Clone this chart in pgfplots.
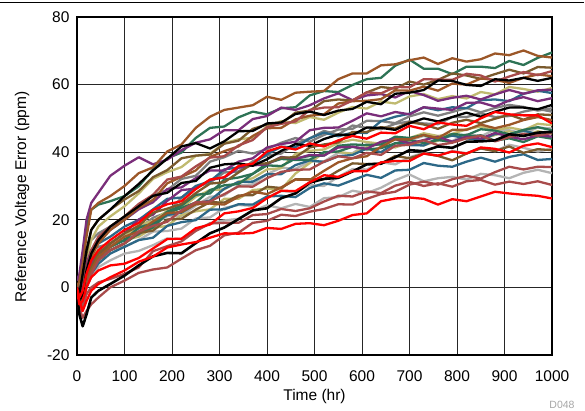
\documentclass[border=0pt]{standalone}
\usepackage{pgfplots}
\pgfplotsset{compat=1.18}
\usepackage{fontspec}
\setmainfont{Liberation Sans}
\definecolor{cbrown}{RGB}{156,87,40}
\definecolor{cgreen}{RGB}{45,115,85}
\definecolor{cpurple}{RGB}{122,46,122}
\definecolor{ckhaki}{RGB}{192,186,112}
\definecolor{cdbrown}{RGB}{122,90,45}
\definecolor{cteal}{RGB}{45,104,135}
\definecolor{cgray}{RGB}{128,128,128}
\definecolor{clgray}{RGB}{180,180,180}
\definecolor{cdred}{RGB}{168,75,75}
\definecolor{cred}{RGB}{255,0,0}
\begin{document}
\begin{tikzpicture}
\useasboundingbox (0,0) rectangle (585bp,411bp);
\draw[line width=0.8pt] (0,408.5bp) -- (584bp,408.5bp);
\node[text=black!35, font=\fontsize{10.5bp}{12bp}\selectfont] at (562bp,6bp) {D048};
\begin{axis}[
  at={(77bp,56bp)}, anchor=south west,
  scale only axis, width=475bp, height=338bp,
  xmin=0, xmax=1000, ymin=-20, ymax=80,
  xtick={0,100,...,1000}, ytick={-20,0,...,80},
  grid=major, major grid style={black!85, line width=0.7pt},
  axis line style={line width=2.2pt},
  tick style={draw=none},
  /pgf/number format/assume math mode=true,
  /pgf/number format/1000 sep={},
  ticklabel style={font=\fontsize{15.5bp}{18bp}\selectfont},
  xticklabel style={anchor=center, yshift=-21bp},
  yticklabel style={anchor=east, xshift=-4bp},
  xlabel={Time (hr)}, ylabel={Reference Voltage Error (ppm)},
  every axis x label/.style={at={(axis description cs:0.5,-0.1213)}, anchor=center, font=\fontsize{15.5bp}{18bp}\selectfont},
  every axis y label/.style={at={(axis description cs:-0.1158,0.4675)}, anchor=center, rotate=90, font=\fontsize{15.5bp}{18bp}\selectfont},
  every axis plot/.append style={line width=2.3pt, line join=round, no markers},
]
\addplot[cgray] coordinates {(0,1)(5,-1)(12,5)(20,11)(30,14)(45,16)(70,18)(100,20)(130,23.6)(160,27.3)(190,28.8)(220,32.1)(250,33)(280,37.2)(310,38.5)(340,40.4)(370,39.6)(400,40.9)(430,42.8)(460,44.2)(490,43.1)(520,45.1)(550,46.7)(580,46.9)(610,49.3)(640,49.2)(670,48.6)(700,50.6)(730,51.8)(760,50.8)(790,51.9)(820,53.1)(850,51.8)(880,53.1)(910,54)(940,53.4)(970,52.3)(1000,53)};
\addplot[clgray] coordinates {(0,0)(5,-3)(12,0)(20,4)(30,7)(45,9)(70,11)(100,12)(130,14)(160,16.5)(190,16.7)(220,17.4)(250,20.4)(280,20.7)(310,23.5)(340,24.4)(370,24.1)(400,26.6)(430,28.5)(460,28.2)(490,30.3)(520,30)(550,32.7)(580,35)(610,34.9)(640,37)(670,36.4)(700,38.5)(730,39.8)(760,38.9)(790,40.4)(820,39.7)(850,41.3)(880,40.3)(910,42.2)(940,41.3)(970,40.2)(1000,41)};
\addplot[clgray] coordinates {(0,0)(5,-5)(12,-4)(20,0)(30,3)(45,6)(70,8)(100,10)(130,10.8)(160,12.5)(190,14.5)(220,14.3)(250,16.8)(280,19)(310,19.8)(340,20.3)(370,22.6)(400,24.3)(430,23.4)(460,24.7)(490,23.8)(520,26.4)(550,26.7)(580,28.6)(610,27.9)(640,29.5)(670,31.7)(700,33.4)(730,31.4)(760,32.3)(790,32.7)(820,31.9)(850,33.6)(880,33.2)(910,32.3)(940,33.9)(970,34.8)(1000,33.8)};
\addplot[clgray] coordinates {(0,1)(5,-2)(12,1)(20,6)(30,9)(45,11)(70,13)(100,15)(130,18.1)(160,18.4)(190,21.1)(220,21.2)(250,24.2)(280,26.8)(310,27.2)(340,30.2)(370,30.5)(400,33.5)(430,35.4)(460,35.1)(490,37.2)(520,37.3)(550,39.8)(580,39.7)(610,42.4)(640,42.1)(670,41.6)(700,43.5)(730,44.8)(760,43.8)(790,43.3)(820,45.3)(850,44.7)(880,46.7)(910,46.5)(940,45.5)(970,47.3)(1000,47)};
\addplot[cgray] coordinates {(0,1)(5,-2)(12,3)(20,9)(30,11)(45,12)(70,13)(100,15)(130,17.4)(160,20.6)(190,22.2)(220,26.5)(250,29.7)(280,31)(310,34)(340,34.3)(370,37.3)(400,39)(430,39.6)(460,42.5)(490,44.1)(520,46.3)(550,45.2)(580,47.9)(610,47.2)(640,46.8)(670,48.4)(700,49.1)(730,48.5)(760,48.3)(790,50.4)(820,50.4)(850,51.5)(880,50.4)(910,50.7)(940,52)(970,52.8)(1000,52)};
\addplot[ckhaki] coordinates {(0,1)(5,-1)(12,2)(20,8)(30,14)(45,18)(70,21)(100,24)(130,27.8)(160,32.1)(190,34.1)(220,35.6)(250,38.9)(280,39.5)(310,42.7)(340,43.8)(370,44.3)(400,47.6)(430,49.2)(460,48.6)(490,50.4)(520,49.6)(550,51.7)(580,53.4)(610,52.9)(640,55)(670,54.4)(700,56.5)(730,57.2)(760,55.7)(790,56.6)(820,55.9)(850,57.8)(880,57.1)(910,59.3)(940,58.7)(970,57.9)(1000,59)};
\addplot[ckhaki] coordinates {(0,0)(5,-3)(12,1)(20,6)(30,9)(45,11)(70,13)(100,15)(130,18.6)(160,19.6)(190,22.7)(220,23.5)(250,26.8)(280,28.8)(310,29)(340,31.3)(370,32.3)(400,34.9)(430,35.3)(460,39.5)(490,40.4)(520,40.8)(550,42.7)(580,43.7)(610,43)(640,42.5)(670,44.3)(700,44.2)(730,45.6)(760,44.8)(790,45.4)(820,46.8)(850,47.6)(880,46.5)(910,47.3)(940,46.5)(970,48.4)(1000,48)};
\addplot[ckhaki] coordinates {(0,0)(5,-2)(12,-1)(20,4)(30,7)(45,10)(70,13)(100,14)(130,15)(160,17.6)(190,18.2)(220,21.4)(250,22.5)(280,23.1)(310,26.2)(340,26.2)(370,28.8)(400,29.2)(430,29)(460,33.7)(490,36.8)(520,39.9)(550,40.1)(580,39.5)(610,41.5)(640,42.5)(670,41.4)(700,42.9)(730,42)(760,43.4)(790,45.3)(820,44.7)(850,43.7)(880,45.1)(910,46.2)(940,44.7)(970,46.2)(1000,45.5)};
\addplot[cteal] coordinates {(0,0)(5,-3)(12,0)(20,6)(30,10)(45,13)(70,15)(100,18)(130,20)(160,23.1)(190,26.2)(220,26.6)(250,30)(280,31.4)(310,34.9)(340,35.5)(370,36.5)(400,39.4)(430,41.6)(460,41.5)(490,44.1)(520,45.8)(550,44.7)(580,45.8)(610,45.7)(640,49.2)(670,50.5)(700,51.4)(730,53.3)(760,52.4)(790,53.3)(820,53)(850,55.4)(880,55.6)(910,55.1)(940,57.3)(970,58.2)(1000,57.5)};
\addplot[cteal] coordinates {(0,-1)(5,-5)(12,-3)(20,1)(30,4)(45,7)(70,10)(100,12)(130,14)(160,14.7)(190,18.2)(220,19.3)(250,19.9)(280,23)(310,23.1)(340,24.6)(370,24.5)(400,26.9)(430,27.1)(460,26.7)(490,29.4)(520,30.8)(550,30.1)(580,31.7)(610,33.3)(640,32.4)(670,34.6)(700,34.8)(730,36.8)(760,36)(790,35.7)(820,37.2)(850,38.4)(880,37.2)(910,38.6)(940,39.4)(970,37.7)(1000,38)};
\addplot[cteal] coordinates {(0,-1)(5,-4)(12,-2)(20,2)(30,6)(45,9)(70,12)(100,14)(130,15.7)(160,18.8)(190,21.4)(220,22.1)(250,24.7)(280,25.7)(310,29.2)(340,31.2)(370,31.3)(400,33.5)(430,33.5)(460,36.2)(490,37.6)(520,37.1)(550,38.8)(580,39.2)(610,41.1)(640,40)(670,42.7)(700,42.1)(730,42)(760,43.9)(790,44.9)(820,44.1)(850,43.6)(880,45.4)(910,45.3)(940,46.4)(970,45.3)(1000,46)};
\addplot[cgreen] coordinates {(0,1)(5,-2)(12,1)(20,5)(30,8)(45,10)(70,12)(100,14)(130,17.7)(160,18.9)(190,22.4)(220,24.2)(250,27.4)(280,27.8)(310,31.9)(340,32.5)(370,33.6)(400,36.7)(430,38)(460,37.7)(490,37.8)(520,40)(550,40.2)(580,41.6)(610,40.8)(640,41.2)(670,42.6)(700,43.6)(730,42.7)(760,43.6)(790,43)(820,44.6)(850,45)(880,43.4)(910,44.1)(940,43)(970,44.7)(1000,44)};
\addplot[cgreen] coordinates {(0,0)(5,-4)(12,-1)(20,3)(30,6)(45,8)(70,11)(100,13)(130,16)(160,17.7)(190,22)(220,23.5)(250,25.1)(280,28.8)(310,30.2)(340,30.6)(370,33.6)(400,36.1)(430,35.9)(460,38.1)(490,38.9)(520,39)(550,41.9)(580,42.3)(610,42.1)(640,42.3)(670,44.6)(700,44.2)(730,45.1)(760,43.6)(790,45.4)(820,45)(850,46.8)(880,46.4)(910,45.3)(940,46.6)(970,47.4)(1000,46.5)};
\addplot[cgreen] coordinates {(0,3)(5,2)(12,9)(20,18)(30,23)(45,24.5)(70,25.5)(100,27)(130,29.9)(160,34.9)(190,38.2)(220,39.9)(250,44.2)(280,47.2)(310,47.6)(340,50.3)(370,52)(400,51.2)(430,53)(460,53.3)(490,56.8)(520,58.1)(550,57.8)(580,59.9)(610,61.6)(640,62)(670,65.6)(700,67.4)(730,64.7)(760,64.7)(790,63.1)(820,65.3)(850,65.3)(880,64.9)(910,67)(940,65.8)(970,67.9)(1000,69.5)};
\addplot[cpurple] coordinates {(0,0)(5,-4)(12,-2)(20,3)(30,7)(45,10)(70,13)(100,16)(130,20.1)(160,21.5)(190,25.6)(220,28.8)(250,29.2)(280,31.8)(310,32.5)(340,35.4)(370,36.1)(400,36.4)(430,38.6)(460,38)(490,39.2)(520,39)(550,41.4)(580,41.6)(610,41)(640,43.1)(670,43.9)(700,42.6)(730,43.6)(760,44.6)(790,43.1)(820,44.6)(850,44)(880,45.7)(910,44.6)(940,43.8)(970,45)(1000,44.6)};
\addplot[cpurple] coordinates {(0,1)(5,-2)(12,2)(20,7)(30,11)(45,14)(70,17)(100,20)(130,23.1)(160,25.2)(190,29.1)(220,29.6)(250,32.3)(280,34.6)(310,34.6)(340,37.2)(370,38.2)(400,41.4)(430,42.4)(460,43.1)(490,46.5)(520,47.2)(550,47.3)(580,49.3)(610,51.5)(640,50.6)(670,51.9)(700,51.2)(730,53.3)(760,52.9)(790,52.5)(820,54.6)(850,54.7)(880,53.5)(910,55.3)(940,56.3)(970,55.1)(1000,56)};
\addplot[cpurple] coordinates {(0,2)(5,4)(12,11)(20,20)(30,25)(45,28)(70,33)(100,36)(130,38.5)(160,36.4)(190,37.8)(220,40.6)(250,42.8)(280,43.8)(310,46.5)(340,46.5)(370,49.8)(400,50.7)(430,53.2)(460,52.5)(490,53.9)(520,55.9)(550,57.4)(580,55.4)(610,56.8)(640,57.2)(670,56.2)(700,58.1)(730,56.9)(760,55.2)(790,56.1)(820,56.7)(850,55.6)(880,57.1)(910,58.4)(940,57.3)(970,58.3)(1000,58.5)};
\addplot[cdbrown] coordinates {(0,-1)(5,-5)(12,-3)(20,1)(30,5)(45,8)(70,11)(100,13)(130,16.1)(160,16.8)(190,20.1)(220,20.3)(250,23)(280,25.2)(310,25.1)(340,27.2)(370,27.3)(400,29.8)(430,29.4)(460,32)(490,32)(520,32)(550,34.5)(580,36.7)(610,36.5)(640,36.6)(670,38.9)(700,38.2)(730,39.6)(760,38.9)(790,37.6)(820,39.6)(850,41.1)(880,40.3)(910,41.7)(940,39.8)(970,40.9)(1000,40.6)};
\addplot[cdbrown] coordinates {(0,0)(5,-4)(12,-3)(20,2)(30,6)(45,10)(70,13)(100,16)(130,18.2)(160,22.1)(190,23.3)(220,24.7)(250,27.9)(280,30.7)(310,31.1)(340,34)(370,36.6)(400,36.7)(430,38.4)(460,38.5)(490,41.4)(520,42.3)(550,42.9)(580,46)(610,46)(640,47.4)(670,47)(700,48.9)(730,48.2)(760,46.9)(790,48.7)(820,49.6)(850,48.6)(880,49.9)(910,51.1)(940,49.6)(970,51.2)(1000,51)};
\addplot[cdbrown] coordinates {(0,-1)(5,-1)(12,3)(20,10)(30,17)(45,20)(70,23)(100,26)(130,28.5)(160,32.6)(190,34.7)(220,38.2)(250,39)(280,39.3)(310,42.5)(340,43.4)(370,46.9)(400,48.2)(430,48.5)(460,51.7)(490,52.3)(520,55.1)(550,55.6)(580,55.3)(610,57.7)(640,59.3)(670,58.8)(700,60.9)(730,60)(760,61.4)(790,63.3)(820,62.7)(850,61.7)(880,63.1)(910,64.4)(940,63.3)(970,65.2)(1000,65)};
\addplot[cbrown] coordinates {(0,-1)(5,-6)(12,-5)(20,1)(30,5)(45,9)(70,12)(100,15)(130,16.5)(160,19.5)(190,22)(220,22.3)(250,24.6)(280,24.8)(310,24.5)(340,26.8)(370,28.3)(400,27.6)(430,29.6)(460,31.9)(490,31.8)(520,34.5)(550,37)(580,38.2)(610,38.8)(640,41.6)(670,43.8)(700,43.8)(730,45.1)(760,44.2)(790,46.6)(820,46.6)(850,48.2)(880,47.1)(910,48.1)(940,49.5)(970,50.4)(1000,49.5)};
\addplot[cbrown] coordinates {(0,-2)(5,-5)(12,-4)(20,3)(30,9)(45,13)(70,17)(100,20)(130,23.6)(160,25.9)(190,30.8)(220,32.7)(250,34.6)(280,38.6)(310,40.3)(340,41.7)(370,44.8)(400,47.1)(430,47.2)(460,49.7)(490,50.8)(520,51.2)(550,54.4)(580,55.1)(610,55.2)(640,55.7)(670,58.3)(700,58.2)(730,59.4)(760,58.2)(790,60.3)(820,60)(850,61.8)(880,61.4)(910,60.5)(940,62)(970,63)(1000,62.5)};
\addplot[cbrown] coordinates {(0,0)(5,2)(12,7)(20,15)(30,23)(45,25)(70,27)(100,30)(130,33.8)(160,35.5)(190,40.2)(220,42.3)(250,47.2)(280,50.5)(310,52.5)(340,53.2)(370,53.9)(400,56.4)(430,55.5)(460,57.6)(490,57.9)(520,58.1)(550,61.6)(580,63.3)(610,63.3)(640,65.7)(670,66)(700,67.2)(730,68)(760,66.1)(790,67.8)(820,66.8)(850,67.5)(880,69.2)(910,68.7)(940,70.1)(970,68.5)(1000,68)};
\addplot[cdred] coordinates {(0,-3)(5,-6)(12,-9)(20,-7)(30,-5)(45,-3)(70,0)(100,2)(130,4.3)(160,5.3)(190,5.9)(220,8.5)(250,11)(280,12.3)(310,15.4)(340,16.2)(370,19.1)(400,19.7)(430,21.5)(460,21.1)(490,22.4)(520,23.2)(550,24.6)(580,24.5)(610,26.2)(640,27.6)(670,28.3)(700,30.4)(730,31.3)(760,30.4)(790,32)(820,33)(850,32.2)(880,34.1)(910,35.7)(940,34.9)(970,35.7)(1000,35.6)};
\addplot[cdred] coordinates {(0,-2)(5,-7)(12,-6)(20,-2)(30,0)(45,1.5)(70,2.5)(100,4)(130,5.9)(160,10.7)(190,12.2)(220,13.6)(250,16.7)(280,18.9)(310,19.1)(340,19.1)(370,21.4)(400,21.7)(430,23.2)(460,22.6)(490,23.4)(520,25.4)(550,27.1)(580,26.9)(610,28.4)(640,27.9)(670,30.1)(700,31.2)(730,30)(760,30.8)(790,29.8)(820,31.4)(850,31.8)(880,30.4)(910,31.3)(940,30.6)(970,31.4)(1000,30.3)};
\addplot[cdred] coordinates {(0,-2)(5,-7)(12,-5)(20,0)(30,4)(45,8)(70,11)(100,13)(130,16.5)(160,18.2)(190,19.4)(220,22.8)(250,25.2)(280,25.4)(310,27.6)(340,29.9)(370,29.8)(400,32.3)(430,34.2)(460,34.8)(490,34.9)(520,37.2)(550,38.8)(580,38.2)(610,39.8)(640,39.2)(670,41.9)(700,42.2)(730,43.5)(760,42.1)(790,42.8)(820,44.1)(850,44.9)(880,43.2)(910,44.5)(940,45.4)(970,44.9)(1000,45.7)};
\addplot[cdred] coordinates {(0,-1)(5,-3)(12,-1)(20,5)(30,11)(45,15)(70,18)(100,21)(130,24.7)(160,27.4)(190,31.9)(220,32.8)(250,35.8)(280,38.4)(310,38.8)(340,42)(370,43.6)(400,47.4)(430,48.4)(460,49.1)(490,52.5)(520,53.2)(550,53.3)(580,55.3)(610,57.7)(640,57.4)(670,59.3)(700,59.2)(730,61.6)(760,61.5)(790,61.4)(820,63.2)(850,62.7)(880,60.9)(910,62.4)(940,63.7)(970,62.8)(1000,64)};
\addplot[black] coordinates {(0,0)(5,-4)(12,-2)(20,5)(30,10)(45,14)(70,18)(100,21)(130,24)(160,27.1)(190,28)(220,30.9)(250,31.5)(280,35.4)(310,36.4)(340,36.7)(370,36)(400,37.9)(430,40.4)(460,42.4)(490,41.9)(520,43.9)(550,45.2)(580,45.1)(610,47.3)(640,47.2)(670,46.6)(700,48.6)(730,50)(760,49.1)(790,50.4)(820,51.7)(850,50.5)(880,52)(910,53.2)(940,53.2)(970,52.7)(1000,54)};
\addplot[black] coordinates {(0,0)(5,-2)(12,4)(20,11)(30,17)(45,20)(70,23)(100,27)(130,30.6)(160,34.6)(190,38.1)(220,41.7)(250,42.7)(280,41.1)(310,43.2)(340,46.2)(370,46.3)(400,48.5)(430,48.8)(460,51.3)(490,52)(520,51)(550,52.3)(580,52.8)(610,54.9)(640,54.2)(670,57.3)(700,57.6)(730,58.4)(760,61.2)(790,61.1)(820,59.9)(850,59.6)(880,61.6)(910,61.2)(940,62)(970,61.1)(1000,62)};
\addplot[black, line width=2.6pt] coordinates {(0,-2)(5,-8)(12,-11.5)(20,-8)(30,-3)(45,-1)(70,1)(100,3.5)(130,6.5)(160,9.2)(190,10.2)(220,10.1)(250,13.1)(280,16)(310,17.7)(340,20.2)(370,22.8)(400,23.4)(430,26.4)(460,27.8)(490,31)(520,32.1)(550,32.4)(580,34.3)(610,36.4)(640,36.6)(670,38.5)(700,40.6)(730,40.3)(760,41.7)(790,41.3)(820,43.1)(850,43.2)(880,43.5)(910,45.3)(940,44.8)(970,45.8)(1000,46)};
\addplot[cred] coordinates {(0,-1)(5,-5)(12,-4)(20,0)(30,3)(45,5)(70,6.5)(100,7)(130,8.7)(160,11.5)(190,14.3)(220,14.4)(250,17.5)(280,18.6)(310,21.9)(340,22.5)(370,23.5)(400,26.4)(430,28.6)(460,28.5)(490,31.1)(520,33.2)(550,32.7)(580,34.4)(610,34.4)(640,37)(670,37.4)(700,37.4)(730,39.6)(760,39)(790,40.2)(820,39.6)(850,41.4)(880,41)(910,39.9)(940,41.9)(970,42.6)(1000,41.5)};
\addplot[cred] coordinates {(0,0)(5,-3)(12,-1)(20,4)(30,8)(45,11)(70,14)(100,17)(130,19.1)(160,22.9)(190,24.6)(220,25.5)(250,29.1)(280,31.9)(310,32.6)(340,35.9)(370,36.6)(400,40.2)(430,41.6)(460,40.8)(490,42.6)(520,41.7)(550,43.5)(580,44.8)(610,44)(640,45.8)(670,45.6)(700,47.8)(730,46.8)(760,48.8)(790,48.2)(820,47.8)(850,50)(880,51.9)(910,51.2)(940,50.9)(970,50.9)(1000,48.5)};
\addplot[cred] coordinates {(0,-1)(5,-4)(12,-7)(20,-4)(30,-1)(45,1)(70,3)(100,5)(130,7.6)(160,9.1)(190,11.8)(220,12.7)(250,13.4)(280,14.7)(310,16)(340,15.9)(370,16.1)(400,17.6)(430,17.3)(460,18.8)(490,19)(520,18.4)(550,19.7)(580,21.4)(610,21.9)(640,25.5)(670,26.3)(700,26.6)(730,26.2)(760,24.5)(790,26.1)(820,25.5)(850,26.9)(880,28.3)(910,27.8)(940,27.4)(970,27.1)(1000,26.3)};
\end{axis}
\end{tikzpicture}
\end{document}
